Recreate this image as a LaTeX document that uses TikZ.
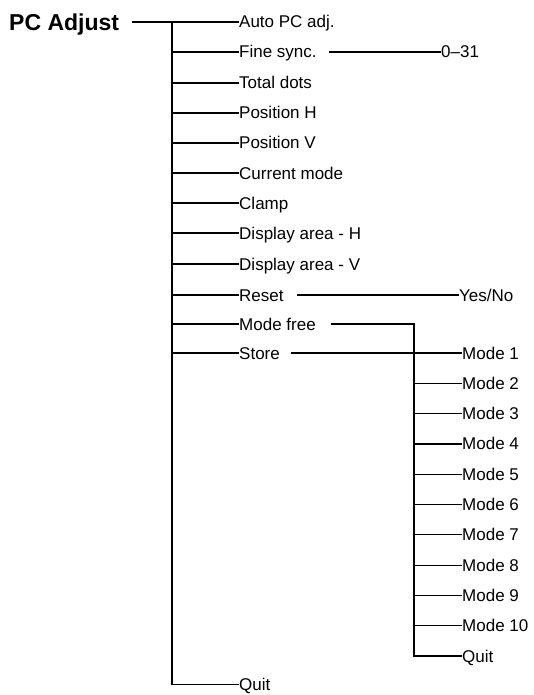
\documentclass[tikz,border=0pt]{standalone}
\usepackage{fontspec}
\setmainfont{Liberation Sans}
\begin{document}
\begin{tikzpicture}[x=1pt,y=-1pt,
  line/.style={draw=black,line width=1.2pt},
  item/.style={anchor=west,inner sep=0pt,text height=12pt,text depth=0pt,font=\fontsize{17pt}{19pt}\selectfont},
  ttl/.style={anchor=west,inner sep=0pt,text height=16.5pt,text depth=0pt,font=\fontsize{23pt}{25pt}\selectfont\bfseries}]
\useasboundingbox (0,0) rectangle (533,695);
% title
\node[ttl] (title) at (9,22) {PC Adjust};
\coordinate (spine) at (172,22);
% main items
\node[item] (auto)  at (239,22)  {Auto PC adj.};
\node[item] (fine)  at (239,52)  {Fine sync.};
\node[item] (total) at (239,83)  {Total dots};
\node[item] (posh)  at (239,113) {Position H};
\node[item] (posv)  at (239,143) {Position V};
\node[item] (cur)   at (239,173) {Current mode};
\node[item] (clamp) at (239,203) {Clamp};
\node[item] (dah)   at (239,233) {Display area - H};
\node[item] (dav)   at (239,264) {Display area - V};
\node[item] (reset) at (239,295) {Reset};
\node[item] (mfree) at (239,324) {Mode free};
\node[item] (store) at (239,353) {Store};
\node[item] (quit)  at (239,684.5) {Quit};
% sub items
\node[item] (r031)  at (441,52)  {0–31};
\node[item] (yesno) at (459,295) {Yes/No};
\coordinate (mtop) at (414,324);
\foreach \k in {1,...,10}{
  \node[item] (mode\k) at (462,{353+30.3*(\k-1)}) {Mode \k};
}
\node[item] (mquit) at (462,656) {Quit};
% connectors
\draw[line] (132,22) -- (auto.west);
\foreach \n in {fine,total,posh,posv,cur,clamp,dah,dav,reset,mfree,store,quit}{
  \draw[line] (spine) |- (\n.west);
}
\draw[line] ([xshift=12pt]fine.east) -- (r031.west);
\draw[line] ([xshift=13pt]reset.east) -- (yesno.west);
\draw[line] ([xshift=15pt]mfree.east) -- (mtop) |- (mquit.west);
\draw[line] ([xshift=11pt]store.east) -- (mode1.west);
\foreach \k in {2,...,10}{
  \draw[line] (mtop) |- (mode\k.west);
}
\end{tikzpicture}
\end{document}
